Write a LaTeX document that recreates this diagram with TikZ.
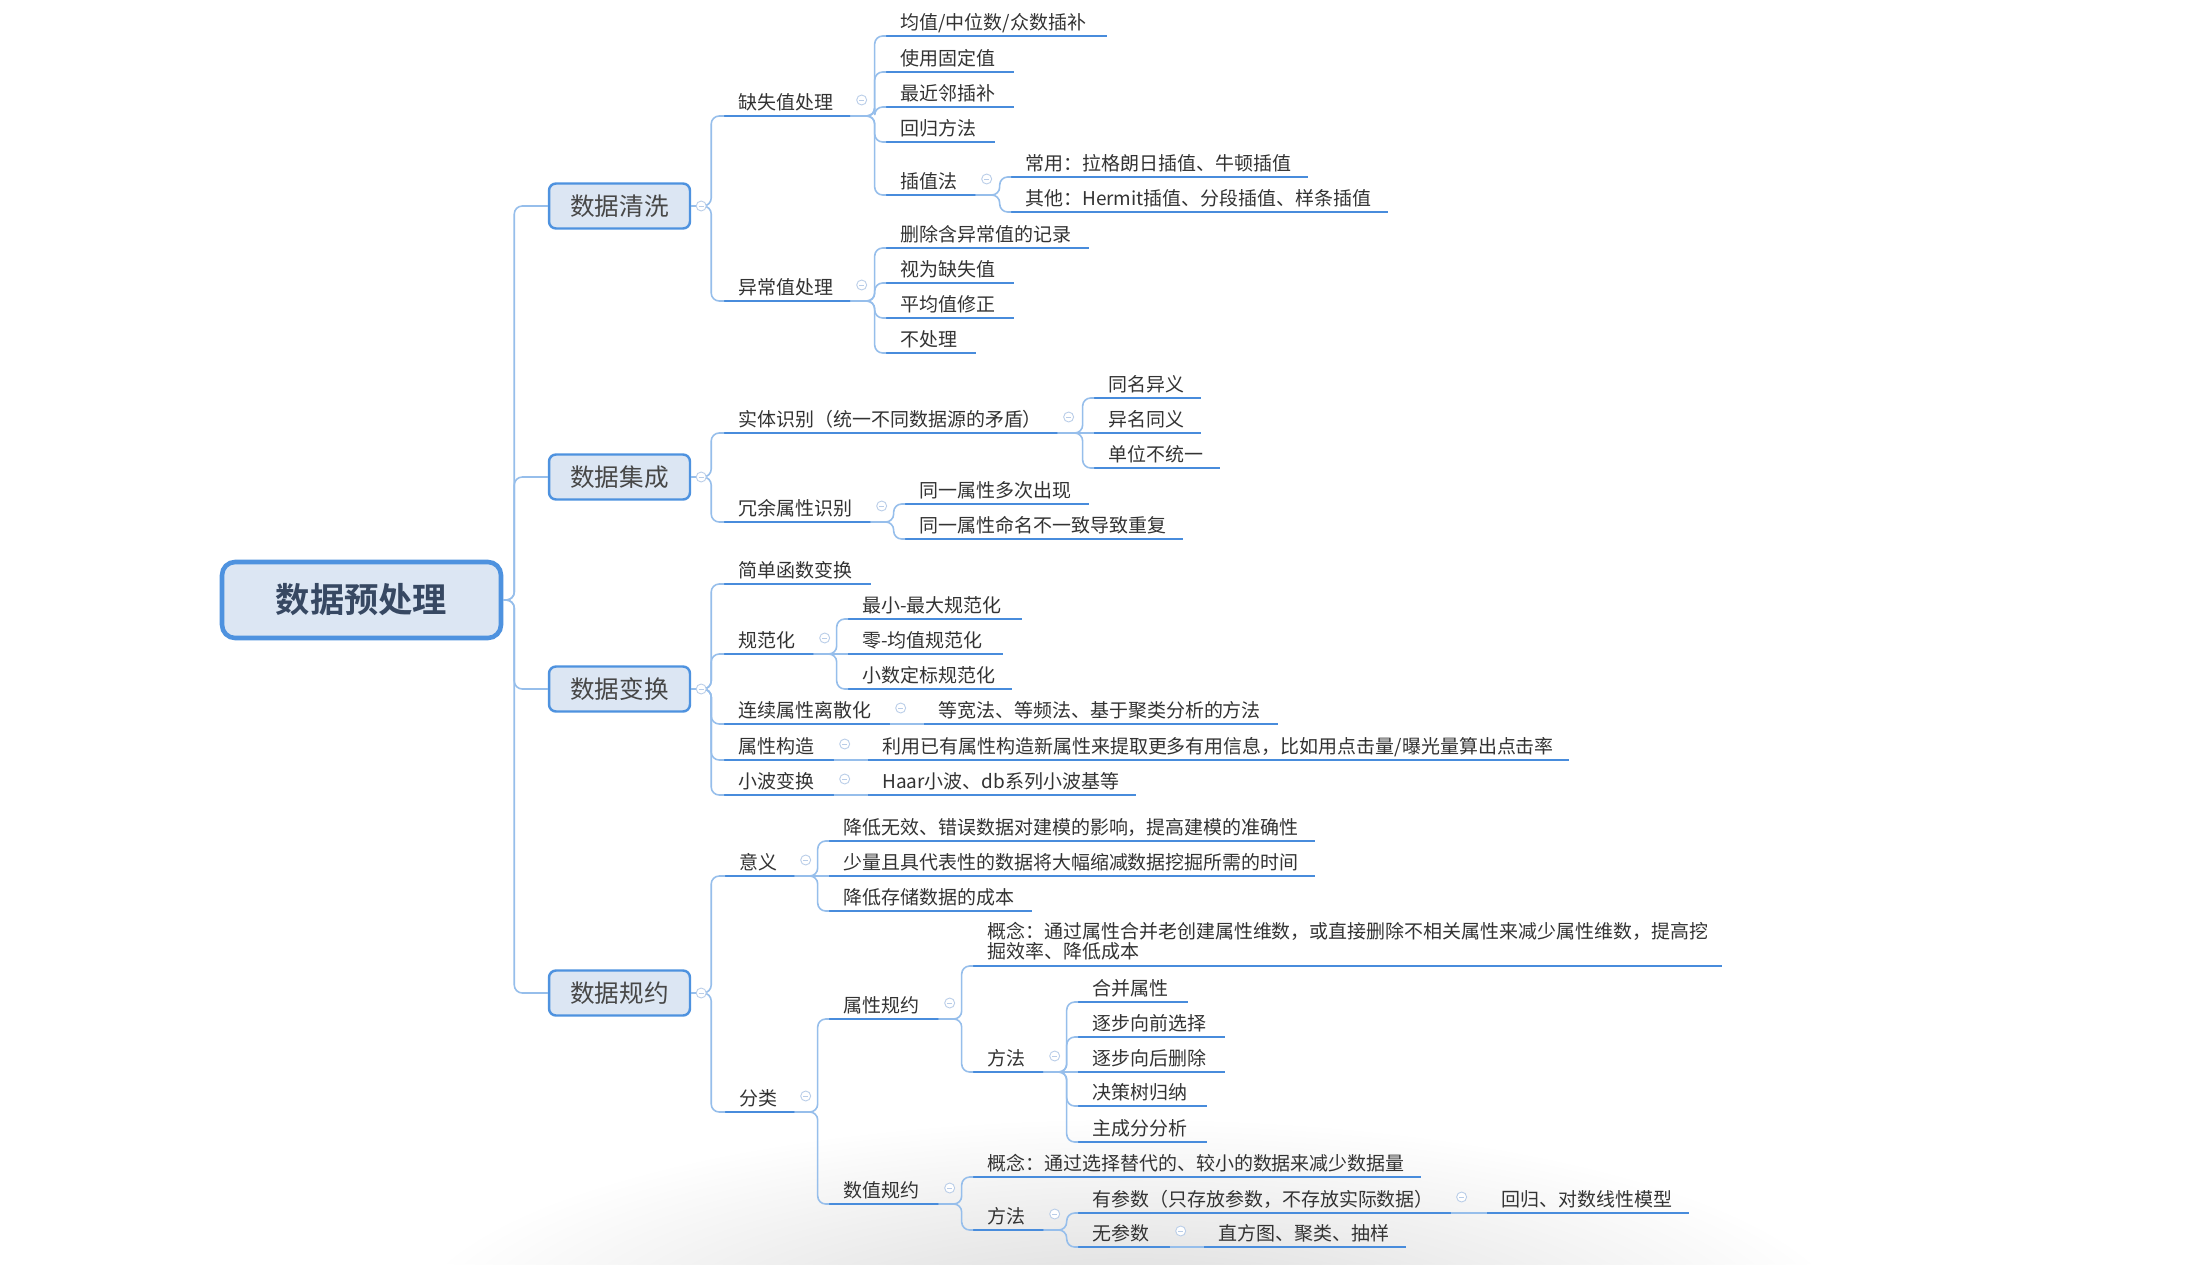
\documentclass[tikz,border=0pt]{standalone}
\usepackage{fontspec}
\setmainfont{Noto Sans CJK SC}[BoldFont={Noto Sans CJK SC Bold}]
\usepackage{xcolor}
\usepackage{tikz}
\usetikzlibrary{fadings}

\definecolor{linkblue}{RGB}{150,190,235}
\definecolor{lineblue}{RGB}{72,140,220}
\definecolor{boxfill}{RGB}{220,230,243}
\definecolor{boxline}{RGB}{78,146,223}
\definecolor{textgray}{RGB}{51,51,51}
\definecolor{roottext}{RGB}{55,72,98}
\definecolor{foldblue}{RGB}{185,205,232}

\tikzfading[name=shadowfade, inner color=transparent!0, outer color=transparent!100]

\tikzset{
  mainbox/.style={draw=boxline, fill=boxfill, line width=2.6pt, rounded corners=0.26cm,
    minimum width=5.58cm, minimum height=1.52cm, text=roottext,
    font=\fontsize{19.5}{22}\selectfont\bfseries},
  topbox/.style={draw=boxline, fill=boxfill, line width=1.4pt, rounded corners=0.14cm,
    minimum width=2.82cm, minimum height=0.9cm, text=textgray!90,
    font=\fontsize{14}{16}\selectfont},
  uline/.style={draw=lineblue, line width=1.6pt},
  topic/.style={anchor=south west, inner xsep=0.28cm, inner ysep=0.06cm, text depth=0.2em,
    align=left, text=textgray, font=\fontsize{10.8}{11.4}\selectfont,
    append after command={(\tikzlastnode.south west) edge[uline] (\tikzlastnode.south east)}},
  conn/.style={draw=linkblue, line width=0.9pt, rounded corners=0.16cm},
  fork/.style={to path={-- ++(#1,0) |- (\tikztotarget)}},
  fold/.style={circle, draw=foldblue, fill=white, line width=0.5pt, minimum size=0.2cm, inner sep=0pt,
    path picture={\draw[foldblue, line width=0.5pt] ([xshift=-0.05cm]path picture bounding box.center)
      -- ([xshift=0.05cm]path picture bounding box.center);}},
}

\begin{document}
\begin{tikzpicture}[x=0.02cm, y=-0.02cm]
  \useasboundingbox (0,0) rectangle (2186,1264);
  \fill[white] (0,0) rectangle (2186,1264);
  \fill[black!15, path fading=shadowfade] (1130,1330) ellipse (720 and 210);

  % root and main branches
  \node[mainbox] (root) at (361.5,600) {数据预处理};
  \node[topbox] (clean) at (619.5,206) {数据清洗};
  \node[topbox] (integ) at (619.5,477) {数据集成};
  \node[topbox] (trans) at (619.5,689) {数据变换};
  \node[topbox] (reduce) at (619.5,993) {数据规约};

  % data cleaning
  \node[topic, text width=1.96cm] (miss) at (724,116) {缺失值处理};
  \node[topic, text width=3.84cm] (m1) at (886,36) {均值/中位数/众数插补};
  \node[topic, text width=1.98cm] (m2) at (886,72) {使用固定值};
  \node[topic, text width=1.98cm] (m3) at (886,107) {最近邻插补};
  \node[topic, text width=1.60cm] (m4) at (886,142) {回归方法};
  \node[topic, text width=1.22cm] (m5) at (886,195) {插值法};
  \node[topic, text width=5.36cm] (i1) at (1011,177) {常用：拉格朗日插值、牛顿插值};
  \node[topic, text width=6.96cm] (i2) at (1011,212) {其他：Hermit插值、分段插值、样条插值};
  \node[topic, text width=1.96cm] (outl) at (724,301) {异常值处理};
  \node[topic, text width=3.48cm] (o1) at (886,248) {删除含异常值的记录};
  \node[topic, text width=1.98cm] (o2) at (886,283) {视为缺失值};
  \node[topic, text width=1.98cm] (o3) at (886,318) {平均值修正};
  \node[topic, text width=1.22cm] (o4) at (886,353) {不处理};

  % data integration
  \node[topic, text width=6.10cm] (ent) at (724,433) {实体识别（统一不同数据源的矛盾）};
  \node[topic, text width=1.56cm] (e1) at (1094,398) {同名异义};
  \node[topic, text width=1.56cm] (e2) at (1094,433) {异名同义};
  \node[topic, text width=1.94cm] (e3) at (1094,468) {单位不统一};
  \node[topic, text width=2.36cm] (redu) at (724,522) {冗余属性识别};
  \node[topic, text width=3.10cm] (r1) at (905,504) {同一属性多次出现};
  \node[topic, text width=4.98cm] (r2) at (905,539) {同一属性命名不一致导致重复};

  % data transformation
  \node[topic, text width=2.36cm] (simp) at (724,584) {简单函数变换};
  \node[topic, text width=1.22cm] (norm) at (724,654) {规范化};
  \node[topic, text width=2.90cm] (n1) at (848,619) {最小-最大规范化};
  \node[topic, text width=2.52cm] (n2) at (848,654) {零-均值规范化};
  \node[topic, text width=2.70cm] (n3) at (848,689) {小数定标规范化};
  \node[topic, text width=2.74cm] (disc) at (724,724) {连续属性离散化};
  \node[topic, text width=6.50cm] (d1) at (924,724) {等宽法、等频法、基于聚类分析的方法};
  \node[topic, text width=1.62cm] (cons) at (724,760) {属性构造};
  \node[topic, text width=13.44cm] (c1) at (868,760) {利用已有属性构造新属性来提取更多有用信息，比如用点击量/曝光量算出点击率};
  \node[topic, text width=1.62cm] (wave) at (724,795) {小波变换};
  \node[topic, text width=4.78cm] (w1) at (868,795) {Haar小波、db系列小波基等};

  % data reduction
  \node[topic, text width=0.82cm] (mean) at (725,876) {意义};
  \node[topic, text width=9.14cm] (s1) at (829,841) {降低无效、错误数据对建模的影响，提高建模的准确性};
  \node[topic, text width=9.14cm] (s2) at (829,876) {少量且具代表性的数据将大幅缩减数据挖掘所需的时间};
  \node[topic, text width=3.48cm] (s3) at (829,911) {降低存储数据的成本};
  \node[topic, text width=0.82cm] (cls) at (725,1112) {分类};
  \node[topic, text width=1.62cm] (attr) at (829,1019) {属性规约};
  \node[topic, text width=14.40cm, text depth=13.6pt] (ac) at (973,966) {概念：通过属性合并老创建属性维数，或直接删除不相关属性来减少属性维数，提高挖\\掘效率、降低成本};
  \node[topic, text width=0.84cm] (am) at (973,1072) {方法};
  \node[topic, text width=1.62cm] (a1) at (1078,1002) {合并属性};
  \node[topic, text width=2.36cm] (a2) at (1078,1037) {逐步向前选择};
  \node[topic, text width=2.36cm] (a3) at (1078,1072) {逐步向后删除};
  \node[topic, text width=2.00cm] (a4) at (1078,1106) {决策树归纳};
  \node[topic, text width=2.00cm] (a5) at (1078,1142) {主成分分析};
  \node[topic, text width=1.62cm] (num) at (829,1204) {数值规约};
  \node[topic, text width=8.38cm] (nc) at (973,1177) {概念：通过选择替代的、较小的数据来减少数据量};
  \node[topic, text width=0.84cm] (nm) at (973,1230) {方法};
  \node[topic, text width=6.88cm] (p1) at (1078,1213) {有参数（只存放参数，不存放实际数据）};
  \node[topic, text width=3.46cm] (p11) at (1487,1213) {回归、对数线性模型};
  \node[topic, text width=1.26cm] (p2) at (1078,1247) {无参数};
  \node[topic, text width=3.46cm] (p21) at (1204,1247) {直方图、聚类、抽样};

  % connectors
  \draw[conn] (root.east) to[fork=11] (clean.west);
  \draw[conn] (root.east) to[fork=11] (integ.west);
  \draw[conn] (root.east) to[fork=11] (trans.west);
  \draw[conn] (root.east) to[fork=11] (reduce.west);

  \draw[conn] (clean.east) to[fork=20] (miss.south west);
  \draw[conn] (clean.east) to[fork=20] (outl.south west);
  \draw[conn] (miss.south east) to[fork=24] (m1.south west);
  \draw[conn] (miss.south east) to[fork=24] (m2.south west);
  \draw[conn] (miss.south east) to[fork=24] (m3.south west);
  \draw[conn] (miss.south east) to[fork=24] (m4.south west);
  \draw[conn] (miss.south east) to[fork=24] (m5.south west);
  \draw[conn] (m5.south east) to[fork=24] (i1.south west);
  \draw[conn] (m5.south east) to[fork=24] (i2.south west);
  \draw[conn] (outl.south east) to[fork=24] (o1.south west);
  \draw[conn] (outl.south east) to[fork=24] (o2.south west);
  \draw[conn] (outl.south east) to[fork=24] (o3.south west);
  \draw[conn] (outl.south east) to[fork=24] (o4.south west);

  \draw[conn] (integ.east) to[fork=20] (ent.south west);
  \draw[conn] (integ.east) to[fork=20] (redu.south west);
  \draw[conn] (ent.south east) to[fork=25] (e1.south west);
  \draw[conn] (ent.south east) -- (e2.south west);
  \draw[conn] (ent.south east) to[fork=25] (e3.south west);
  \draw[conn] (redu.south east) to[fork=23] (r1.south west);
  \draw[conn] (redu.south east) to[fork=23] (r2.south west);

  \draw[conn] (trans.east) to[fork=20] (simp.south west);
  \draw[conn] (trans.east) to[fork=20] (norm.south west);
  \draw[conn] (trans.east) to[fork=20] (disc.south west);
  \draw[conn] (trans.east) to[fork=20] (cons.south west);
  \draw[conn] (trans.east) to[fork=20] (wave.south west);
  \draw[conn] (norm.south east) to[fork=23] (n1.south west);
  \draw[conn] (norm.south east) -- (n2.south west);
  \draw[conn] (norm.south east) to[fork=23] (n3.south west);
  \draw[conn] (disc.south east) -- (d1.south west);
  \draw[conn] (cons.south east) -- (c1.south west);
  \draw[conn] (wave.south east) -- (w1.south west);

  \draw[conn] (reduce.east) to[fork=20] (mean.south west);
  \draw[conn] (reduce.east) to[fork=20] (cls.south west);
  \draw[conn] (mean.south east) to[fork=23] (s1.south west);
  \draw[conn] (mean.south east) -- (s2.south west);
  \draw[conn] (mean.south east) to[fork=23] (s3.south west);
  \draw[conn] (cls.south east) to[fork=23] (attr.south west);
  \draw[conn] (cls.south east) to[fork=23] (num.south west);
  \draw[conn] (attr.south east) to[fork=23] (ac.south west);
  \draw[conn] (attr.south east) to[fork=23] (am.south west);
  \draw[conn] (am.south east) to[fork=23] (a1.south west);
  \draw[conn] (am.south east) to[fork=23] (a2.south west);
  \draw[conn] (am.south east) -- (a3.south west);
  \draw[conn] (am.south east) to[fork=23] (a4.south west);
  \draw[conn] (am.south east) to[fork=23] (a5.south west);
  \draw[conn] (num.south east) to[fork=23] (nc.south west);
  \draw[conn] (num.south east) to[fork=23] (nm.south west);
  \draw[conn] (nm.south east) to[fork=23] (p1.south west);
  \draw[conn] (nm.south east) to[fork=23] (p2.south west);
  \draw[conn] (p1.south east) -- (p11.south west);
  \draw[conn] (p2.south east) -- (p21.south west);

  % collapse marks
  \node[fold] (cleanf) at ([xshift=0.2cm]clean.east) {};
  \node[fold] (integf) at ([xshift=0.2cm]integ.east) {};
  \node[fold] (transf) at ([xshift=0.2cm]trans.east) {};
  \node[fold] (reducef) at ([xshift=0.2cm]reduce.east) {};
  \node[fold] (missf) at ([xshift=0.22cm,yshift=0.32cm]miss.south east) {};
  \node[fold] (m5f) at ([xshift=0.22cm,yshift=0.32cm]m5.south east) {};
  \node[fold] (outlf) at ([xshift=0.22cm,yshift=0.32cm]outl.south east) {};
  \node[fold] (entf) at ([xshift=0.22cm,yshift=0.32cm]ent.south east) {};
  \node[fold] (reduf) at ([xshift=0.22cm,yshift=0.32cm]redu.south east) {};
  \node[fold] (normf) at ([xshift=0.22cm,yshift=0.32cm]norm.south east) {};
  \node[fold] (discf) at ([xshift=0.22cm,yshift=0.32cm]disc.south east) {};
  \node[fold] (consf) at ([xshift=0.22cm,yshift=0.32cm]cons.south east) {};
  \node[fold] (wavef) at ([xshift=0.22cm,yshift=0.32cm]wave.south east) {};
  \node[fold] (meanf) at ([xshift=0.22cm,yshift=0.32cm]mean.south east) {};
  \node[fold] (clsf) at ([xshift=0.22cm,yshift=0.32cm]cls.south east) {};
  \node[fold] (attrf) at ([xshift=0.22cm,yshift=0.32cm]attr.south east) {};
  \node[fold] (amf) at ([xshift=0.22cm,yshift=0.32cm]am.south east) {};
  \node[fold] (numf) at ([xshift=0.22cm,yshift=0.32cm]num.south east) {};
  \node[fold] (nmf) at ([xshift=0.22cm,yshift=0.32cm]nm.south east) {};
  \node[fold] (p1f) at ([xshift=0.22cm,yshift=0.32cm]p1.south east) {};
  \node[fold] (p2f) at ([xshift=0.22cm,yshift=0.32cm]p2.south east) {};
\end{tikzpicture}
\end{document}
